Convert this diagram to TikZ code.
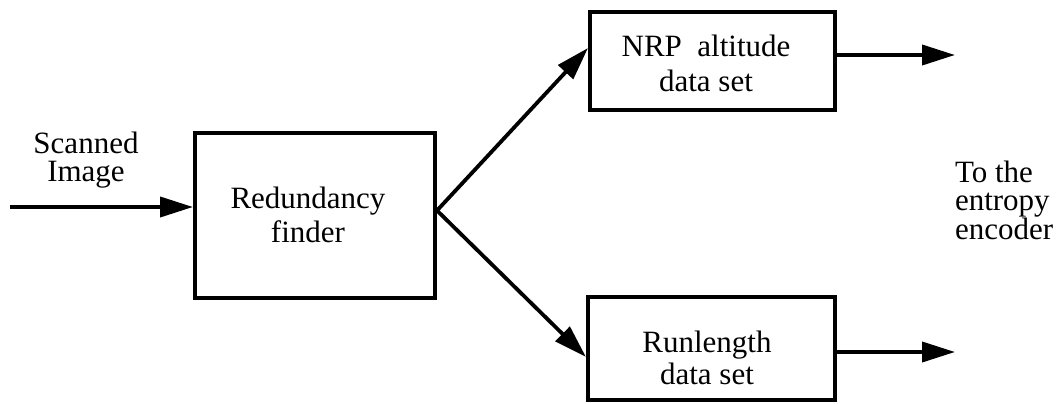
\documentclass[tikz,border=0pt]{standalone}
\usepackage{fontspec}
\setmainfont{Liberation Serif}
\usetikzlibrary{arrows.meta,calc}
\begin{document}
\begin{tikzpicture}[x=1pt,y=1pt,
  line width=4pt,
  block/.style={draw,line width=4pt,inner sep=0pt,align=center,
    font=\fontsize{31}{34}\selectfont},
  lbl/.style={inner sep=0pt,font=\fontsize{31}{28}\selectfont},
  flow/.style={-{Triangle[length=33pt,width=20pt]},line width=3.8pt}]
\useasboundingbox (0,0) rectangle (1057,-404);

% processing blocks
\node[block,minimum width=240pt,minimum height=165pt] (rf) at (315,-215.5) {};
\node[block,minimum width=245pt,minimum height=98pt] (nrp) at (712.5,-61) {};
\node[block,minimum width=247pt,minimum height=103pt] (rl) at (711.5,-348.5) {};

% block captions
\node[lbl,align=center,font=\fontsize{31}{34}\selectfont] (rft) at (308,-215) {Redundancy\\finder};
\node[lbl,align=center,font=\fontsize{31}{35}\selectfont] (nrpt) at (706,-63) {NRP\ \ altitude\\data set};
\node[lbl,align=center,font=\fontsize{31}{32}\selectfont] (rlt) at (707,-358) {Runlength\\data set};

% side labels
\node[lbl,align=center] (scan) at (86,-160) {Scanned\\Image};
\node[lbl,align=left,anchor=west] (enc) at (953,-200) {To the\\entropy\\encoder};

% free ends of the connectors
\coordinate (src) at (10,-207);
\coordinate (out1) at (955,-55);
\coordinate (out2) at (955,-352);

% connectors
\draw[flow] (src) -- (rf.west |- src);
\draw[flow] ([yshift=5pt]rf.east) -- ([yshift=13pt]nrp.west);
\draw[flow] ([yshift=5pt]rf.east) -- ([yshift=-8.5pt]rl.west);
\draw[flow] (nrp.east |- out1) -- (out1);
\draw[flow] (rl.east |- out2) -- (out2);
\end{tikzpicture}
\end{document}
